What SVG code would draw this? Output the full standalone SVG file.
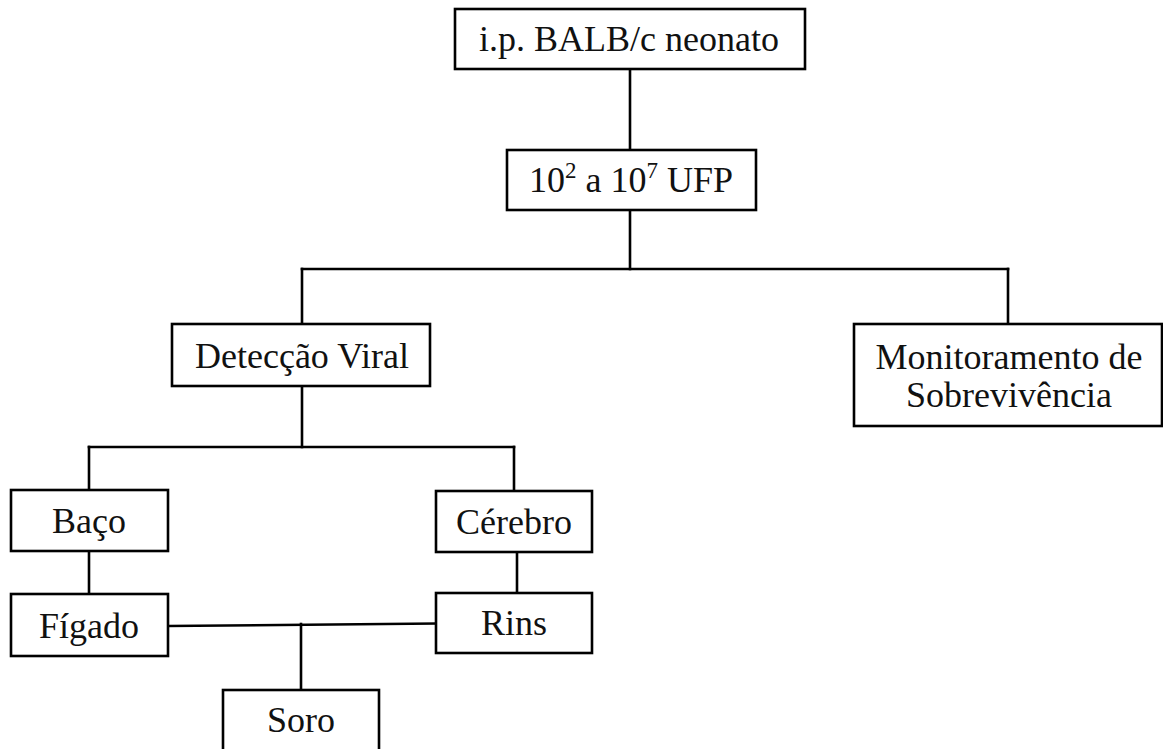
<svg xmlns="http://www.w3.org/2000/svg" width="1163" height="749" viewBox="0 0 1163 749">
<style>
rect.box{fill:#fff;stroke:#000;stroke-width:2.6}
.lbl{font-family:"Liberation Serif","Times New Roman",serif;font-size:36px;fill:#111;text-anchor:middle}
.sup{font-size:23px}
#connectors line{stroke:#000;stroke-width:2.6;stroke-linecap:square}
</style>
<rect width="1163" height="749" fill="#fff"/>
<g id="connectors">
<line x1="630" y1="69" x2="630" y2="150"/>
<line x1="630" y1="210" x2="630" y2="269"/>
<line x1="302" y1="269" x2="1008" y2="269"/>
<line x1="302" y1="269" x2="302" y2="324"/>
<line x1="1008" y1="269" x2="1008" y2="324"/>
<line x1="302" y1="386" x2="302" y2="447"/>
<line x1="89" y1="447" x2="514" y2="447"/>
<line x1="89" y1="447" x2="89" y2="490"/>
<line x1="514" y1="447" x2="514" y2="491"/>
<line x1="89" y1="551" x2="89" y2="594"/>
<line x1="517" y1="552" x2="517" y2="593"/>
<line x1="168" y1="626" x2="436" y2="623.5"/>
<line x1="301" y1="624" x2="301" y2="690"/>
</g>
<g id="node-balb">
<rect class="box" x="455" y="9" width="350" height="60"/>
<text class="lbl" x="629" y="51">i.p. BALB/c neonato</text>
</g>
<g id="node-ufp">
<rect class="box" x="507" y="150" width="249" height="60"/>
<text class="lbl" x="631" y="192">10<tspan class="sup" dy="-14">2</tspan><tspan dy="14"> a 10</tspan><tspan class="sup" dy="-14">7</tspan><tspan dy="14"> UFP</tspan></text>
</g>
<g id="node-deteccao">
<rect class="box" x="172" y="324" width="258" height="62"/>
<text class="lbl" x="302" y="368">Detecção Viral</text>
</g>
<g id="node-monitoramento">
<rect class="box" x="854" y="324" width="308" height="102"/>
<text class="lbl" x="1009" y="369">Monitoramento de</text>
<text class="lbl" x="1009" y="407">Sobrevivência</text>
</g>
<g id="node-baco">
<rect class="box" x="11" y="490" width="157" height="61"/>
<text class="lbl" x="89" y="533">Baço</text>
</g>
<g id="node-cerebro">
<rect class="box" x="436" y="491" width="156" height="61"/>
<text class="lbl" x="514" y="534">Cérebro</text>
</g>
<g id="node-figado">
<rect class="box" x="11" y="594" width="157" height="62"/>
<text class="lbl" x="89" y="638">Fígado</text>
</g>
<g id="node-rins">
<rect class="box" x="436" y="593" width="156" height="60"/>
<text class="lbl" x="514" y="635">Rins</text>
</g>
<g id="node-soro">
<rect class="box" x="223" y="690" width="156" height="70"/>
<text class="lbl" x="301" y="732">Soro</text>
</g>
</svg>
